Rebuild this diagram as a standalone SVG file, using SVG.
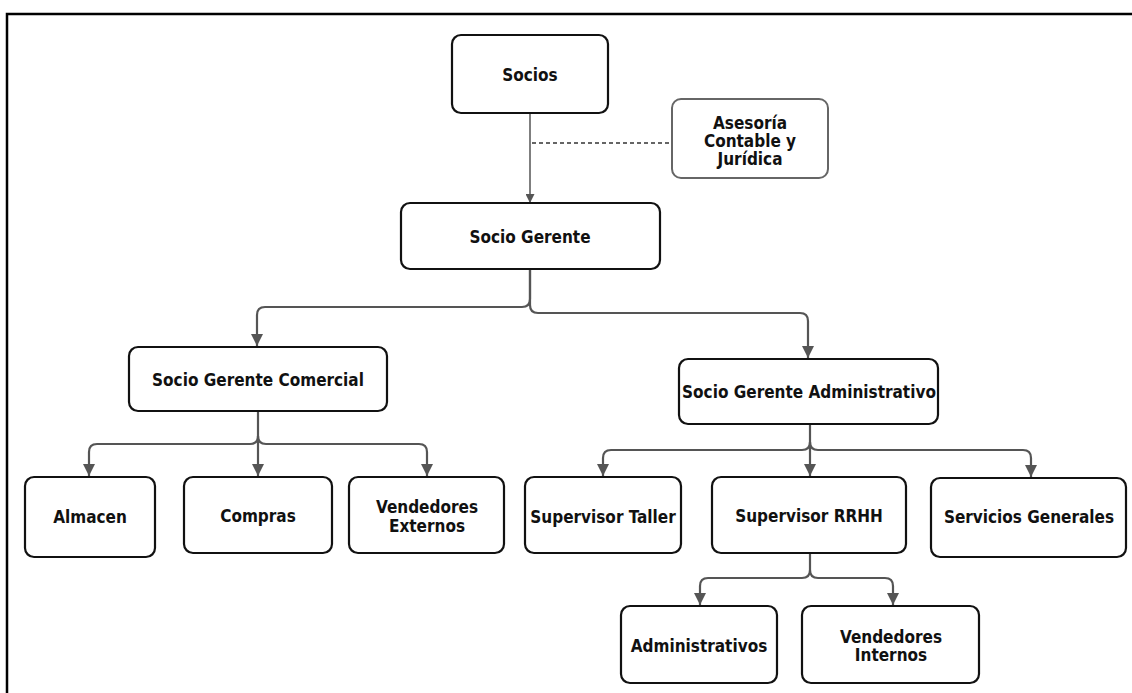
<svg xmlns="http://www.w3.org/2000/svg" width="1132" height="693" viewBox="0 0 1132 693">
<defs>
<style>
.box{fill:#fff;stroke:#111;stroke-width:2.2}
.box2{fill:#fff;stroke:#666;stroke-width:2}
.t{font-family:"DejaVu Sans Condensed","DejaVu Sans",Verdana,sans-serif;font-stretch:condensed;font-weight:bold;font-size:17px;fill:#111;text-anchor:middle;dominant-baseline:central}
.c{fill:none;stroke:#555;stroke-width:2.2}
.c1{fill:none;stroke:#555;stroke-width:1.5}
.d{fill:none;stroke:#333;stroke-width:1.5;stroke-dasharray:4 3}
</style>
<marker id="ah" viewBox="0 0 10 10" refX="10" refY="5" markerWidth="5.5" markerHeight="5.5" markerUnits="strokeWidth" orient="auto">
<path d="M0,0 L10,5 L0,10 Z" fill="#555"/>
</marker>
<marker id="ah1" viewBox="0 0 10 10" refX="10" refY="5" markerWidth="6" markerHeight="6" markerUnits="strokeWidth" orient="auto">
<path d="M0,0 L10,5 L0,10 Z" fill="#555"/>
</marker>
</defs>
<rect width="1132" height="693" fill="#fff"/>
<path d="M7,700 L7,14 L1140,14" fill="none" stroke="#000" stroke-width="2.5"/>

<g id="connectors">
<path class="c1" d="M530,113 L530,203" marker-end="url(#ah1)"/>
<path class="d" d="M532,143 L672,143"/>
<path class="c" d="M530,269 L530,299 Q530,307 522,307 L265,307 Q257,307 257,315 L257,346" marker-end="url(#ah)"/>
<path class="c" d="M530,269 L530,305 Q530,313 538,313 L800,313 Q808,313 808,321 L808,358" marker-end="url(#ah)"/>
<path class="c" d="M258,411 L258,476" marker-end="url(#ah)"/>
<path class="c" d="M258,436 Q258,444 250,444 L97,444 Q89,444 89,452 L89,476" marker-end="url(#ah)"/>
<path class="c" d="M258,436 Q258,444 266,444 L419,444 Q427,444 427,452 L427,476" marker-end="url(#ah)"/>
<path class="c" d="M810,424 L810,476" marker-end="url(#ah)"/>
<path class="c" d="M810,442 Q810,450 802,450 L611,450 Q603,450 603,458 L603,476" marker-end="url(#ah)"/>
<path class="c" d="M810,442 Q810,450 818,450 L1023,450 Q1031,450 1031,458 L1031,477" marker-end="url(#ah)"/>
<path class="c" d="M810,553 L810,570 Q810,578 802,578 L708,578 Q700,578 700,586 L700,605" marker-end="url(#ah)"/>
<path class="c" d="M810,570 Q810,578 818,578 L885,578 Q893,578 893,586 L893,605" marker-end="url(#ah)"/>
</g>

<g id="socios"><rect class="box" x="452" y="35" width="156" height="78" rx="9"/><text class="t" x="530" y="75">Socios</text></g>
<g id="asesoria"><rect class="box2" x="672" y="99" width="156" height="79" rx="9"/><text class="t" x="750" y="123">Asesoría</text><text class="t" x="750" y="141">Contable y</text><text class="t" x="750" y="159">Jurídica</text></g>
<g id="socio-gerente"><rect class="box" x="401" y="203" width="259" height="66" rx="9"/><text class="t" x="530" y="237">Socio Gerente</text></g>
<g id="comercial"><rect class="box" x="129" y="347" width="258" height="64" rx="9"/><text class="t" x="258" y="380">Socio Gerente Comercial</text></g>
<g id="administrativo"><rect class="box" x="679" y="359" width="259" height="65" rx="9"/><text class="t" x="809" y="392">Socio Gerente Administrativo</text></g>
<g id="almacen"><rect class="box" x="25" y="477" width="130" height="80" rx="9"/><text class="t" x="90" y="517">Almacen</text></g>
<g id="compras"><rect class="box" x="184" y="477" width="148" height="76" rx="9"/><text class="t" x="258" y="516">Compras</text></g>
<g id="vendedores-externos"><rect class="box" x="349" y="477" width="155" height="76" rx="9"/><text class="t" x="427" y="507">Vendedores</text><text class="t" x="427" y="526">Externos</text></g>
<g id="supervisor-taller"><rect class="box" x="525" y="477" width="156" height="76" rx="9"/><text class="t" x="603" y="517">Supervisor Taller</text></g>
<g id="supervisor-rrhh"><rect class="box" x="712" y="477" width="194" height="76" rx="9"/><text class="t" x="809" y="516">Supervisor RRHH</text></g>
<g id="servicios-generales"><rect class="box" x="931" y="478" width="195" height="79" rx="9"/><text class="t" x="1029" y="517">Servicios Generales</text></g>
<g id="administrativos"><rect class="box" x="621" y="606" width="156" height="77" rx="9"/><text class="t" x="699" y="646">Administrativos</text></g>
<g id="vendedores-internos"><rect class="box" x="802" y="606" width="177" height="77" rx="9"/><text class="t" x="891" y="637">Vendedores</text><text class="t" x="891" y="655">Internos</text></g>
</svg>
